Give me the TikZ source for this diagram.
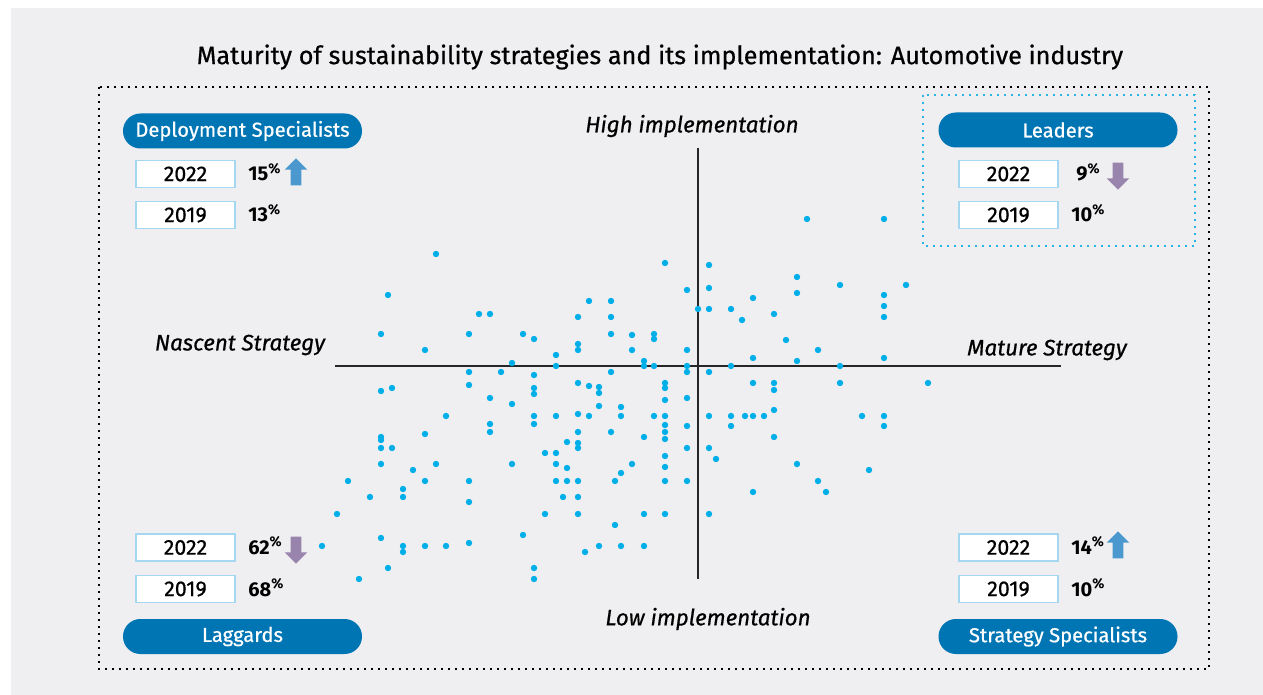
\documentclass[tikz,border=0pt]{standalone}
\usepackage{fontspec}
\setmainfont{Fira Sans}
\newfontfamily\medfont{Fira Sans}[FakeBold=0.6]
\usetikzlibrary{shapes.arrows}
\definecolor{panelgray}{RGB}{239,239,241}
\definecolor{pillblue}{RGB}{0,117,180}
\definecolor{boxline}{RGB}{165,215,240}
\definecolor{dotcyan}{RGB}{0,174,232}
\definecolor{upblue}{RGB}{74,152,206}
\definecolor{dnpurple}{RGB}{152,132,172}
\definecolor{framecyan}{RGB}{40,180,228}
\begin{document}
\begin{tikzpicture}[x=0.5pt,y=-0.5pt,font=\medfont\fontsize{10}{12}\selectfont]
	\tikzstyle{pill}=[rectangle,rounded corners=8.7pt,fill=pillblue,text=white,minimum width=119.5pt,minimum height=17.5pt,inner sep=0pt,font=\medfont\fontsize{10.1}{12}\selectfont] % quadrant name
	\tikzstyle{yearbox}=[rectangle,draw=boxline,fill=white,line width=0.6pt,minimum width=49.5pt,minimum height=13.5pt,inner sep=0pt,font=\medfont\fontsize{10.7}{12}\selectfont]
	\tikzstyle{pct}=[anchor=base west,inner sep=0pt,font=\bfseries\fontsize{10}{12}\selectfont]
	\tikzstyle{arr}=[single arrow,minimum height=13.5pt,inner sep=2.5pt,single arrow head extend=3pt,single arrow head indent=0pt]
	\tikzstyle{uparr}=[arr,fill=upblue,shape border rotate=90] % share went up
	\tikzstyle{dnarr}=[arr,fill=dnpurple,shape border rotate=270] % share went down
	\tikzstyle{axlab}=[font=\medfont\itshape\fontsize{11.2}{13}\selectfont]
	\tikzstyle{dotframe}=[line width=0.8pt,dash pattern=on 0.8pt off 2.7pt]
	% background
	\useasboundingbox (0,0) rectangle (1263,695);
	\fill[white] (0,0) rectangle (1263,695);
	\fill[panelgray] (11,8) rectangle (1263,695);
	\node (title) at (660,57) {\fontsize{12.6}{14}\selectfont Maturity of sustainability strategies and its implementation: Automotive industry};
	\draw[dotframe,black] (99,87) rectangle (1209,669);
	\draw[dotframe,framecyan] (923,95) rectangle (1195,246);
	% axes
	\coordinate (xl) at (335,366);
	\coordinate (xr) at (1061,366);
	\coordinate (yt) at (698,148);
	\coordinate (yb) at (698,579);
	\draw[black!85,line width=0.7pt] (xl) -- (xr);
	\draw[black!85,line width=0.7pt] (yt) -- (yb);
	\node[axlab] (high) at (692,126) {High implementation};
	\node[axlab] (low) at (708,619) {Low implementation};
	\node[axlab] (nascent) at (240,345) {Nascent Strategy};
	\node[axlab] (mature) at (1047,350) {Mature Strategy};
	% companies
	\foreach \x/\y in {436/254,388/295,479/314,490/314,381/334,469/334,425/350,469/372,501/372,381/391,392/388,469/385,490/398,
		665/263,687/290,698/309,589/301,611/301,578/317,611/317,523/334,534/339,578/344,578/350,611/334,632/335,654/334,654/339,632/350,687/350,556/355,512/363,556/366,644/361,644/366,654/366,687/366,687/372,534/375,611/372,578/383,589/386,599/387,599/393,665/383,665/388,534/388,534/394,665/400,687/398,
		807/219,884/219,709/265,709/288,797/277,797/293,840/285,906/285,884/295,884/306,884/317,753/298,709/309,731/309,742/320,774/314,786/340,818/350,753/358,797/361,884/358,731/366,840/366,709/372,753/383,774/383,774/390,840/383,928/383,
		446/416,490/424,490/432,425/434,381/437,381/440,381/448,392/448,381/464,413/470,436/464,348/481,425/481,469/481,403/489,403/497,370/497,469/502,337/514,381/538,322/546,403/546,403/552,425/546,446/546,469/543,388/568,359/579,
		512/404,599/406,621/407,621/416,534/416,556/416,578/414,589/416,654/416,665/416,534/424,665/425,687/426,578/432,611/432,665/432,644/437,665/439,567/442,578/443,578/448,687/448,545/453,556/453,665/456,512/464,556/464,567/468,632/464,621/473,665/467,556/481,567/481,578/481,615/481,665/481,687/481,563/497,578/497,545/514,578/514,644/514,665/514,615/525,523/535,599/546,621/546,644/546,585/552,534/568,534/579,
		709/416,731/416,745/416,753/416,764/416,774/410,731/426,774/437,709/448,716/459,797/464,818/481,826/492,753/492,862/416,884/416,884/426,869/470,709/514}
		\fill[dotcyan] (\x,\y) circle (1.6pt);
	% deployment specialists
	\node[pill] (dep) at (242.5,131) {Deployment Specialists};
	\node[yearbox] (depA) at (185.5,174) {2022};
	\node[yearbox] (depB) at (185.5,215) {2019};
	\node[pct] (depApct) at (248,181) {15\textsuperscript{\%}};
	\node[pct] (depBpct) at (248,222) {13\textsuperscript{\%}};
	\node[uparr] (depArr) at (296,174.5) {};
	% leaders
	\node[pill] (lead) at (1058,130) {Leaders};
	\node[yearbox] (leadA) at (1008.5,174) {2022};
	\node[yearbox] (leadB) at (1008.5,215) {2019};
	\node[pct] (leadApct) at (1076,181) {9\textsuperscript{\%}};
	\node[pct] (leadBpct) at (1071,222) {10\textsuperscript{\%}};
	\node[dnarr] (leadArr) at (1118,173.5) {};
	% laggards
	\node[pill] (lag) at (242.5,636.5) {Laggards};
	\node[yearbox] (lagA) at (185.5,547.5) {2022};
	\node[yearbox] (lagB) at (185.5,589) {2019};
	\node[pct] (lagApct) at (248,554) {62\textsuperscript{\%}};
	\node[pct] (lagBpct) at (248,596) {68\textsuperscript{\%}};
	\node[dnarr] (lagArr) at (296,547.5) {};
	% strategy specialists
	\node[pill] (strat) at (1058,636.5) {Strategy Specialists};
	\node[yearbox] (stratA) at (1008.5,547.5) {2022};
	\node[yearbox] (stratB) at (1008.5,589) {2019};
	\node[pct] (stratApct) at (1071,554) {14\textsuperscript{\%}};
	\node[pct] (stratBpct) at (1071,596) {10\textsuperscript{\%}};
	\node[uparr] (stratArr) at (1118,547.5) {};
\end{tikzpicture}
\end{document}
